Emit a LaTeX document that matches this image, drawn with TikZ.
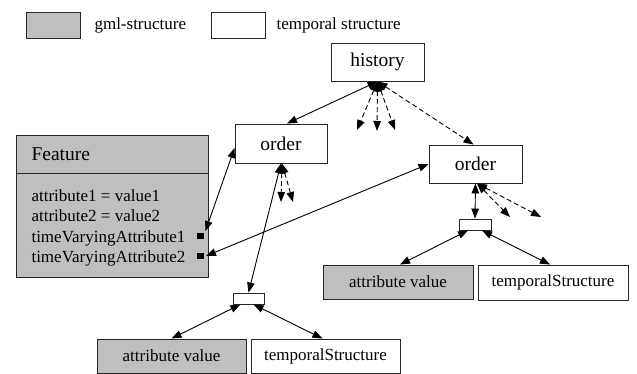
\documentclass[tikz,border=0pt]{standalone}
\usepackage{fontspec}
\setmainfont{Liberation Serif}
\newfontfamily\diagserif{Liberation Serif}
\usetikzlibrary{arrows.meta}
\begin{document}
\begin{tikzpicture}[x=1pt,y=-1pt,
  small/.style={font=\diagserif\fontsize{17}{20}\selectfont},
  big/.style={font=\diagserif\fontsize{19.5}{23}\selectfont},
  gml/.style={draw=black!85,line width=0.9pt,fill=black!25,inner sep=0pt,small},
  temp/.style={draw=black!85,line width=0.9pt,fill=white,inner sep=0pt},
  link/.style={line width=0.9pt,{Triangle[length=10pt,width=7.5pt]}-{Triangle[length=10pt,width=7.5pt]}},
  dlink/.style={link,dash pattern=on 5pt off 3pt},
  slot/.style={fill=black,inner sep=0pt,minimum size=6.5pt}]
\useasboundingbox (0,0) rectangle (637,374);

% legend
\node[gml,minimum width=54pt,minimum height=26pt] (leggml) at (53,25) {};
\node[small,anchor=base west] (leggmltxt) at (91,30) {gml-structure};
\node[temp,minimum width=54pt,minimum height=26pt] (legtemp) at (238,25) {};
\node[small,anchor=base west] (legtemptxt) at (273,30) {temporal structure};

% temporal nodes
\node[temp,big,minimum width=93pt,minimum height=38pt] (history) at (377.5,62) {history};
\node[temp,big,minimum width=92pt,minimum height=39pt] (order1) at (281,143.5) {order};
\node[temp,big,minimum width=93pt,minimum height=38pt] (order2) at (475.5,164) {order};
\node[temp,minimum width=31pt,minimum height=11pt] (pair1) at (248.5,298.5) {};
\node[temp,minimum width=32pt,minimum height=11pt] (pair2) at (475,224.5) {};

% feature class box
\node[gml,minimum width=192pt,minimum height=142pt] (feature) at (112,206) {};
\draw[line width=0.9pt,draw=black!85] (feature.west |- 0,173) coordinate (divl) -- (feature.east |- 0,173) coordinate (divr);
\node[big,anchor=base west] (ftitle) at (28,161) {Feature};
\node[small,anchor=base west] (fa1) at (28,202) {attribute1 = value1};
\node[small,anchor=base west] (fa2) at (28,222) {attribute2 = value2};
\node[small,anchor=base west] (fa3) at (28,242) {timeVaryingAttribute1};
\node[small,anchor=base west] (fa4) at (28,262) {timeVaryingAttribute2};
\node[slot] (sq1) at (200.5,236) {};
\node[slot] (sq2) at (200.5,256) {};

% value / structure pairs
\node[gml,minimum width=149pt,minimum height=34pt] (val1) at (171.5,356) {attribute value};
\node[temp,small,minimum width=149pt,minimum height=34pt] (ts1) at (325.5,356) {temporalStructure};
\node[gml,minimum width=150pt,minimum height=34pt] (val2) at (398,282) {attribute value};
\node[temp,small,minimum width=150pt,minimum height=35pt] (ts2) at (553,282.5) {temporalStructure};

% free ends of the dashed stubs
\coordinate (h1) at (357,130);
\coordinate (h2) at (377,131);
\coordinate (h3) at (395,130);
\coordinate (o1a) at (281,202);
\coordinate (o1b) at (293,202);
\coordinate (o2a) at (510,217);
\coordinate (o2b) at (541,217);

% connectors
\draw[link] (history.south) -- ([xshift=6pt]order1.north);
\draw[dlink] (history.south) -- (h1);
\draw[dlink] (history.south) -- (h2);
\draw[dlink] (history.south) -- (h3);
\draw[dlink] (history.south) -- ([xshift=-2pt]order2.north);

\draw[link] ([shift={(1.5pt,1.5pt)}]sq1.north east) -- ([yshift=-4.5pt]order1.west);
\draw[link] ([xshift=2pt]sq2.east) -- (order2.west);

\draw[link] (order1.south) -- (pair1.north);
\draw[dlink] ([xshift=1pt]order1.south) -- (o1a);
\draw[dlink] ([xshift=1pt]order1.south) -- (o1b);

\draw[link] (order2.south) -- (pair2.north);
\draw[dlink] ([xshift=1.5pt]order2.south) -- (o2a);
\draw[dlink] ([xshift=1.5pt]order2.south) -- (o2b);

\draw[link] ([xshift=-8pt]pair1.south) -- (val1.north);
\draw[link] ([xshift=5pt]pair1.south) -- ([xshift=-3pt]ts1.north);
\draw[link] ([xshift=-7pt]pair2.south) -- ([xshift=2pt]val2.north);
\draw[link] ([xshift=7pt]pair2.south) -- ([xshift=-3pt]ts2.north);
\end{tikzpicture}
\end{document}
